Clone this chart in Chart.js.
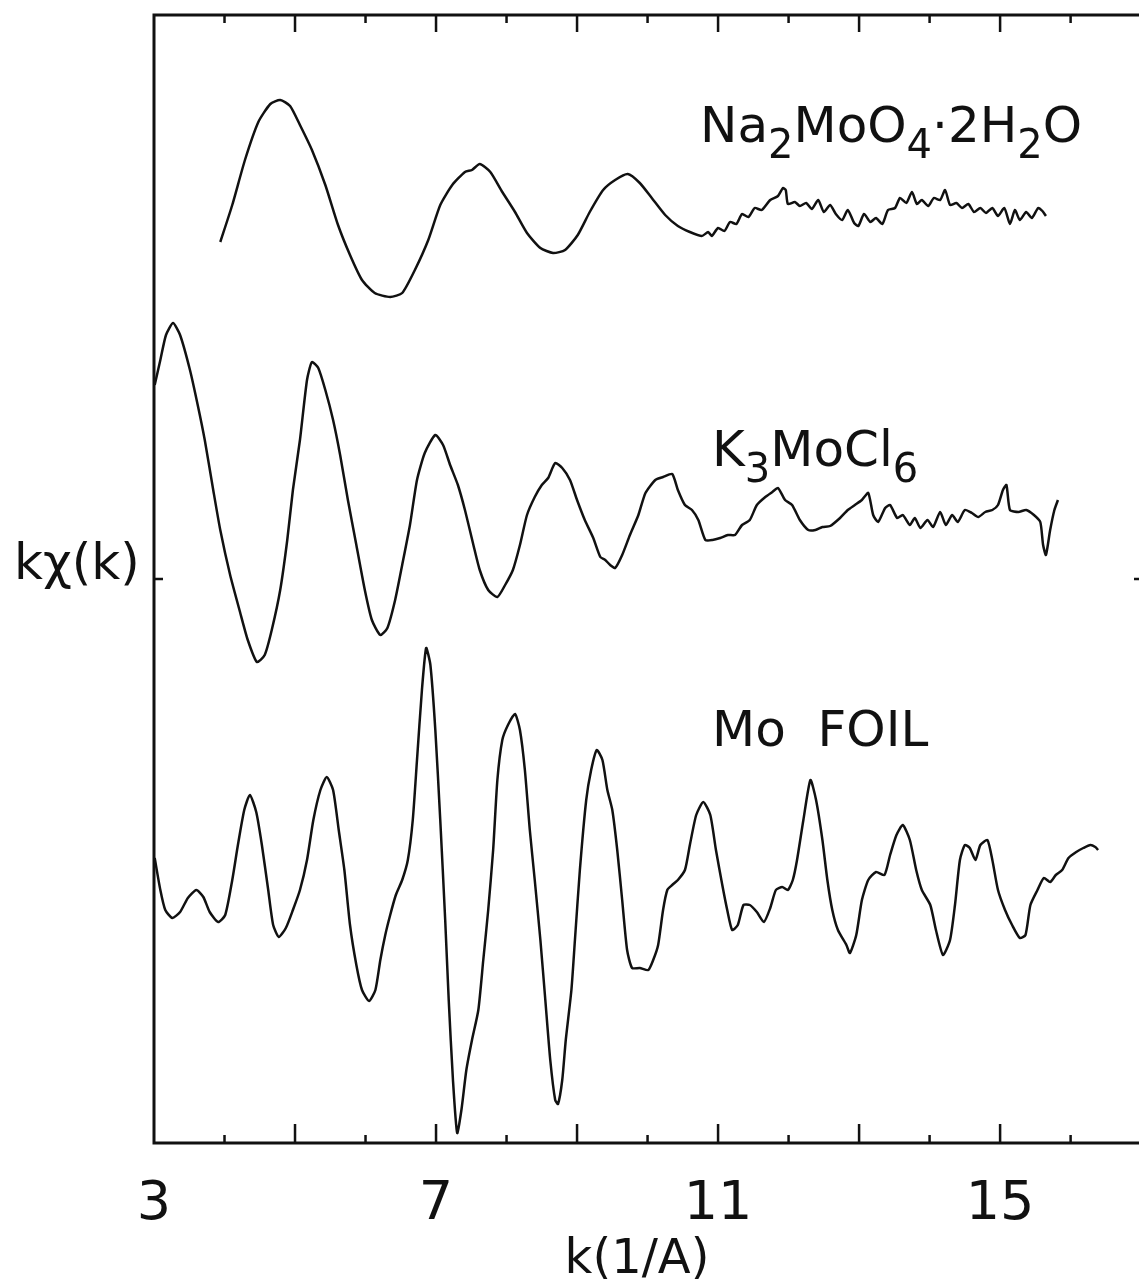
<!DOCTYPE html>
<html>
<head>
<meta charset="utf-8">
<script src="https://cdn.jsdelivr.net/npm/chart.js@4.4.1/dist/chart.umd.min.js"></script>
<style>
  html, body { margin: 0; padding: 0; background: #fff; }
  #wrap { width: 1139px; height: 1284px; position: relative; }
</style>
</head>
<body>
<div id="wrap"><canvas id="exafs"></canvas></div>
<script>
// k in 1/A, kX(k) in arbitrary units (curves offset vertically as in the figure)
const tickLabels = [3, 7, 11, 15];

// Na2MoO4.2H2O
const naK = [3.94, 4.11, 4.29, 4.48, 4.65, 4.79, 4.93, 5.07, 5.24, 5.43,
  5.61, 5.78, 5.95, 6.13, 6.35, 6.52, 6.70, 6.89, 7.06, 7.23,
  7.41, 7.51, 7.62, 7.77, 7.94, 8.12, 8.29, 8.48, 8.66, 8.83,
  9.01, 9.18, 9.37, 9.54, 9.72, 9.89, 10.06, 10.25, 10.43, 10.60,
  10.77, 10.86, 10.91, 11.00, 11.09, 11.17, 11.26, 11.34, 11.43, 11.52,
  11.62, 11.74, 11.85, 11.92, 11.96, 11.99, 12.09, 12.16, 12.25, 12.33,
  12.42, 12.50, 12.59, 12.67, 12.76, 12.84, 12.93, 12.99, 13.07, 13.16,
  13.24, 13.33, 13.41, 13.51, 13.58, 13.67, 13.75, 13.82, 13.89, 13.98,
  14.06, 14.15, 14.22, 14.29, 14.38, 14.46, 14.55, 14.63, 14.72, 14.80,
  14.89, 14.97, 15.06, 15.14, 15.21, 15.28, 15.37, 15.45, 15.54, 15.60,
  15.65];
const naY = [337, 374, 419, 457, 475, 479, 473, 454, 429, 394,
  354, 324, 299, 286, 282, 286, 309, 339, 374, 394,
  407, 409, 415, 407, 387, 367, 346, 331, 326, 329,
  344, 367, 389, 399, 405, 396, 381, 364, 353, 347,
  343, 347, 343, 351, 348, 357, 355, 365, 362, 371,
  369, 379, 383, 391, 389, 375, 377, 373, 376, 370,
  379, 367, 374, 365, 359, 369, 356, 353, 365, 357,
  361, 355, 369, 371, 381, 376, 387, 375, 379, 373,
  381, 379, 389, 374, 376, 371, 375, 367, 371, 366,
  371, 363, 371, 355, 369, 359, 367, 361, 371, 368,
  363];

// K3MoCl6
const kmK = [3.01, 3.09, 3.17, 3.27, 3.37, 3.51, 3.62, 3.72, 3.84, 3.94,
  4.08, 4.22, 4.33, 4.46, 4.57, 4.67, 4.79, 4.89, 4.97, 5.07,
  5.17, 5.24, 5.33, 5.43, 5.54, 5.64, 5.75, 5.87, 5.99, 6.09,
  6.21, 6.31, 6.42, 6.52, 6.63, 6.73, 6.84, 6.99, 7.10, 7.20,
  7.31, 7.41, 7.53, 7.62, 7.74, 7.87, 7.98, 8.09, 8.19, 8.29,
  8.40, 8.50, 8.59, 8.69, 8.79, 8.90, 9.00, 9.11, 9.23, 9.33,
  9.40, 9.47, 9.54, 9.64, 9.75, 9.87, 9.97, 10.11, 10.22, 10.35,
  10.43, 10.53, 10.63, 10.72, 10.82, 10.92, 11.03, 11.14, 11.24, 11.34,
  11.45, 11.55, 11.67, 11.77, 11.85, 11.95, 12.05, 12.16, 12.28, 12.38,
  12.48, 12.59, 12.73, 12.84, 12.94, 13.04, 13.13, 13.20, 13.27, 13.37,
  13.44, 13.54, 13.62, 13.72, 13.79, 13.87, 13.97, 14.05, 14.15, 14.23,
  14.32, 14.40, 14.50, 14.60, 14.69, 14.79, 14.89, 14.97, 15.04, 15.09,
  15.14, 15.26, 15.37, 15.48, 15.57, 15.61, 15.65, 15.71, 15.77, 15.82];
const kmY = [194, 219, 244, 256, 244, 209, 174, 139, 89, 49,
  4, -33, -61, -83, -76, -51, -11, 39, 89, 139,
  199, 217, 211, 189, 159, 124, 79, 34, -11, -41,
  -56, -49, -21, 14, 54, 99, 126, 144, 134, 114,
  94, 69, 34, 9, -11, -18, -6, 9, 34, 64,
  82, 94, 101, 116, 111, 99, 79, 59, 41, 22,
  19, 14, 11, 24, 44, 64, 86, 99, 102, 105,
  89, 74, 69, 59, 39, 39, 41, 44, 44, 54,
  59, 74, 82, 87, 91, 79, 74, 59, 49, 49,
  52, 53, 61, 69, 74, 79, 86, 64, 57, 71,
  74, 61, 64, 54, 61, 51, 59, 52, 67, 54,
  64, 57, 69, 66, 62, 67, 69, 74, 89, 94,
  69, 67, 69, 64, 57, 34, 24, 49, 69, 79];

// Mo foil
const moK = [3.01, 3.09, 3.16, 3.26, 3.37, 3.48, 3.60, 3.70, 3.79, 3.91,
  4.01, 4.11, 4.19, 4.28, 4.36, 4.45, 4.53, 4.62, 4.69, 4.77,
  4.87, 4.97, 5.07, 5.17, 5.26, 5.36, 5.45, 5.54, 5.62, 5.70,
  5.78, 5.87, 5.95, 6.05, 6.14, 6.21, 6.28, 6.35, 6.43, 6.52,
  6.60, 6.67, 6.73, 6.80, 6.86, 6.92, 6.99, 7.06, 7.13, 7.18,
  7.24, 7.30, 7.36, 7.43, 7.51, 7.60, 7.67, 7.74, 7.81, 7.87,
  7.94, 8.02, 8.12, 8.19, 8.26, 8.33, 8.40, 8.48, 8.55, 8.62,
  8.69, 8.73, 8.79, 8.84, 8.92, 8.97, 9.04, 9.13, 9.20, 9.28,
  9.36, 9.43, 9.50, 9.57, 9.64, 9.71, 9.78, 9.89, 10.01, 10.08,
  10.15, 10.22, 10.28, 10.35, 10.43, 10.53, 10.60, 10.69, 10.79, 10.89,
  10.97, 11.06, 11.13, 11.20, 11.28, 11.36, 11.45, 11.55, 11.65, 11.74,
  11.82, 11.91, 11.99, 12.06, 12.12, 12.21, 12.31, 12.39, 12.48, 12.55,
  12.62, 12.70, 12.82, 12.87, 12.96, 13.04, 13.13, 13.24, 13.36, 13.44,
  13.53, 13.62, 13.72, 13.81, 13.89, 14.01, 14.09, 14.19, 14.29, 14.36,
  14.43, 14.50, 14.57, 14.65, 14.72, 14.82, 14.89, 14.97, 15.07, 15.17,
  15.28, 15.36, 15.43, 15.53, 15.62, 15.71, 15.79, 15.88, 15.97, 16.08,
  16.18, 16.28, 16.35, 16.39];
const moY = [-279, -311, -331, -339, -333, -319, -311, -318, -333, -343,
  -336, -301, -266, -231, -216, -233, -266, -311, -346, -358,
  -349, -331, -311, -281, -241, -211, -198, -211, -251, -291,
  -346, -386, -411, -422, -411, -381, -356, -336, -316, -301,
  -281, -241, -181, -111, -69, -86, -151, -241, -341, -421,
  -501, -554, -531, -491, -461, -431, -381, -331, -271, -201,
  -161, -146, -135, -151, -191, -251, -301, -361, -421, -481,
  -521, -525, -501, -461, -411, -361, -291, -221, -191, -171,
  -181, -211, -231, -271, -321, -371, -389, -389, -391, -381,
  -366, -331, -311, -306, -301, -291, -266, -236, -223, -236,
  -271, -306, -331, -351, -346, -326, -326, -333, -343, -329,
  -311, -308, -311, -301, -281, -241, -201, -221, -261, -301,
  -331, -351, -366, -374, -356, -321, -301, -293, -296, -276,
  -256, -246, -261, -291, -311, -326, -351, -376, -361, -326,
  -281, -266, -269, -281, -266, -261, -281, -311, -331, -346,
  -359, -356, -326, -311, -299, -303, -296, -291, -279, -273,
  -269, -266, -268, -271];

const INK = '#111';
const FONT = "'DejaVu Sans', sans-serif";

function toPoints(ks, ys) {
  return ks.map((k, i) => ({ x: k, y: ys[i] }));
}

function curve(ks, ys) {
  return {
    data: toPoints(ks, ys),
    borderColor: INK,
    borderWidth: 2.5,
    pointRadius: 0,
    tension: 0.2,
    fill: false
  };
}

// text with subscripts: parts = [[text, isSub], ...]
function drawFormula(ctx, parts, x, y, size) {
  for (const [txt, sub] of parts) {
    const s = sub ? size * 0.8 : size;
    ctx.font = s + 'px ' + FONT;
    ctx.fillText(txt, x, y + (sub ? size * 0.32 : 0));
    x += ctx.measureText(txt).width;
  }
}

const framePlugin = {
  id: 'frame',
  afterDraw(chart) {
    const ctx = chart.ctx;
    const a = chart.chartArea;
    const xs = chart.scales.x;
    const ys = chart.scales.y;
    ctx.save();
    ctx.strokeStyle = INK;
    ctx.lineWidth = 3;
    ctx.beginPath();
    ctx.moveTo(a.right, a.top);
    ctx.lineTo(a.left, a.top);
    ctx.lineTo(a.left, a.bottom);
    ctx.lineTo(a.right, a.bottom);
    ctx.stroke();

    // inward ticks, long at odd k, short at even k
    ctx.lineWidth = 2.5;
    ctx.beginPath();
    for (let k = 4; k <= 16; k++) {
      const px = xs.getPixelForValue(k);
      const major = k % 2 === 1;
      ctx.moveTo(px, a.bottom);
      ctx.lineTo(px, a.bottom - (major ? 19 : 8));
      ctx.moveTo(px, a.top);
      ctx.lineTo(px, a.top + (major ? 17 : 8));
    }
    const y0 = ys.getPixelForValue(0);
    ctx.moveTo(a.left, y0);
    ctx.lineTo(a.left + 9, y0);
    ctx.moveTo(a.right, y0);
    ctx.lineTo(a.right - 5, y0);
    ctx.stroke();

    ctx.fillStyle = INK;
    ctx.textBaseline = 'alphabetic';
    ctx.textAlign = 'left';
    drawFormula(ctx, [['Na', 0], ['2', 1], ['MoO', 0], ['4', 1], ['·2H', 0], ['2', 1], ['O', 0]], 700, 142, 50);
    drawFormula(ctx, [['K', 0], ['3', 1], ['MoCl', 0], ['6', 1]], 712, 466, 50);
    drawFormula(ctx, [['Mo  FOIL', 0]], 712, 746, 50);
    drawFormula(ctx, [['kχ(k)', 0]], 14, 579, 50);

    ctx.textAlign = 'center';
    ctx.font = '48px ' + FONT;
    ctx.fillText('k(1/A)', 637, 1273);
    ctx.restore();
  }
};

new Chart(document.getElementById('exafs'), {
  type: 'line',
  data: {
    datasets: [curve(naK, naY), curve(kmK, kmY), curve(moK, moY)]
  },
  options: {
    responsive: true,
    maintainAspectRatio: false,
    animation: false,
    layout: { padding: { top: 15, right: 0, left: 0, bottom: 0 } },
    plugins: { legend: { display: false }, tooltip: { enabled: false } },
    scales: {
      x: {
        type: 'linear',
        min: 3,
        max: 16.97,
        grid: { display: false },
        border: { display: false },
        afterBuildTicks: (scale) => { scale.ticks = tickLabels.map(v => ({ value: v })); },
        afterFit: (scale) => { scale.height = 141; },
        ticks: {
          color: INK,
          padding: 22,
          maxRotation: 0,
          autoSkip: false,
          font: { family: FONT, size: 54 }
        }
      },
      y: {
        type: 'linear',
        min: -564,
        max: 564,
        grid: { display: false },
        border: { display: false },
        ticks: { display: false },
        afterFit: (scale) => { scale.width = 154; }
      }
    }
  },
  plugins: [framePlugin]
});
</script>
</body>
</html>
